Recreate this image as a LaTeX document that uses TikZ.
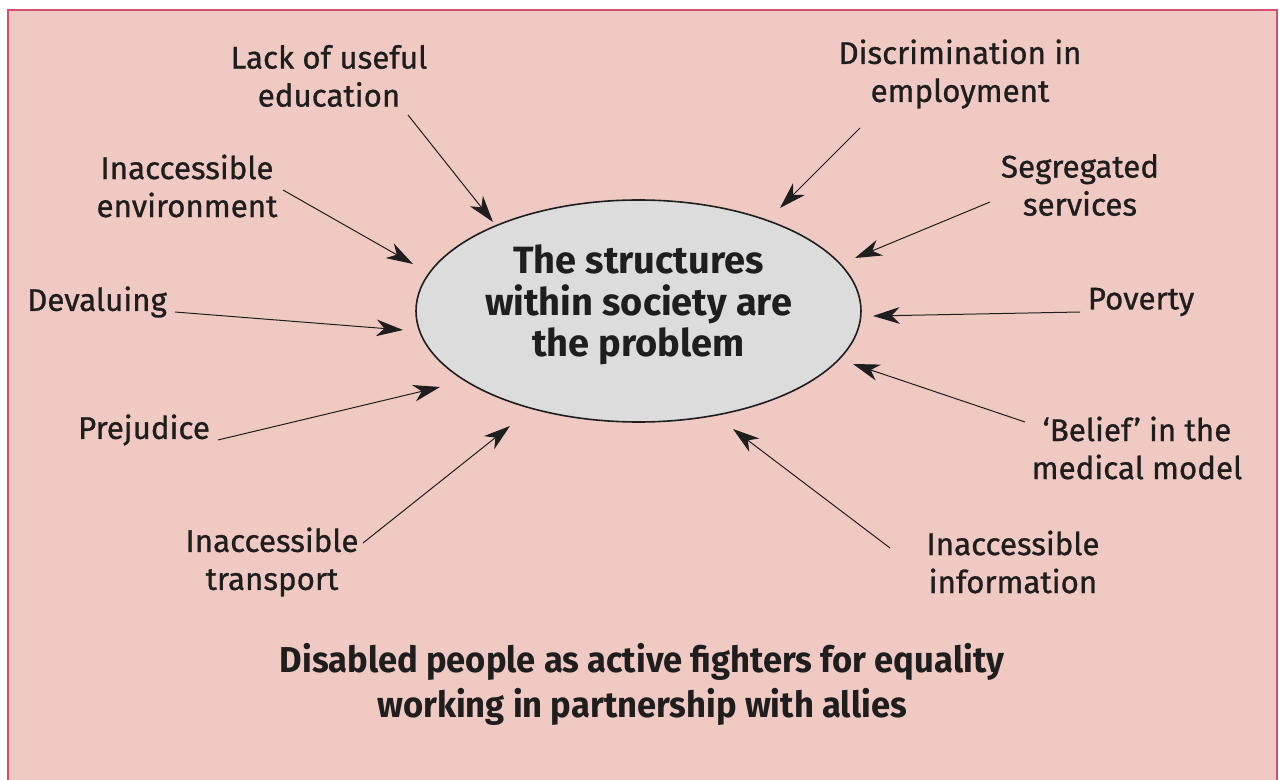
\documentclass[tikz,border=0pt]{standalone}
\usepackage{fontspec}
\setmainfont{Fira Sans}
\newfontfamily\lblfont{Fira Sans}[FakeBold=0.9]
\newfontfamily\condfont{Fira Sans}[FakeStretch=0.96]
\usetikzlibrary{shapes.geometric,arrows.meta}
\definecolor{bgpink}{HTML}{F0CAC2}
\definecolor{rim}{HTML}{D4506E}
\definecolor{ellfill}{HTML}{DCDCDC}
\definecolor{ink}{HTML}{1E1E1E}
\tikzset{
  lbl/.style={align=center, text=ink, font=\lblfont\fontsize{23.5}{28.5}\selectfont, inner sep=0pt},
  arr/.style={draw=ink, line width=0.75pt, -{Stealth[length=20pt,width=12.5pt,inset=6pt]}},
}
\begin{document}
\begin{tikzpicture}[x=0.75pt,y=-0.75pt]
\useasboundingbox (0,0) rectangle (1279,780);
\fill[bgpink] (8,10) rectangle (1277,790);
\draw[rim, line width=2.2pt] (8,790) -- (8,10) -- (1277,10) -- (1277,790);

\node[ellipse, draw=ink, line width=1.2pt, fill=ellfill, minimum width=333.75pt, minimum height=166.5pt, inner sep=0pt] (core) at (638.5,311) {};
\node[align=center, text=ink, font=\bfseries\fontsize{28.5}{31}\selectfont] (coretext) at (638.5,305) {The structures\\within society are\\the problem};

\node[lbl] (lack) at (329,76) {Lack of useful\\education};
\node[lbl] (disc) at (960,74) {Discrimination in\\employment};
\node[lbl] (envi) at (187,186) {Inaccessible\\environment};
\node[lbl] (segr) at (1080,185) {Segregated\\services};
\node[lbl] (deva) at (97,302) {Devaluing};
\node[lbl] (pove) at (1141,302) {Poverty};
\node[lbl] (prej) at (144,430) {Prejudice};
\node[lbl] (beli) at (1137,448) {‘Belief’ in the\\medical model};
\node[lbl] (tran) at (272,562) {Inaccessible\\transport};
\node[lbl] (info) at (1013,562) {Inaccessible\\information};

\node[align=center, text=ink, font=\condfont\bfseries\fontsize{27}{33.75}\selectfont] (bottom) at (642,684) {Disabled people as active fighters for equality\\working in partnership with allies};

\coordinate (s1) at (408,115); \coordinate (t1) at (493,222);
\coordinate (s2) at (860,128); \coordinate (t2) at (780,208);
\coordinate (s3) at (283,190); \coordinate (t3) at (413,264);
\coordinate (s4) at (990,202); \coordinate (t4) at (855,258);
\coordinate (s5) at (175,312); \coordinate (t5) at (403,330);
\coordinate (s6) at (1080,312); \coordinate (t6) at (873,316);
\coordinate (s7) at (218,440); \coordinate (t7) at (440,387);
\coordinate (s8) at (1025,422); \coordinate (t8) at (853,364);
\coordinate (s9) at (363,543); \coordinate (t9) at (510,426);
\coordinate (s10) at (890,548); \coordinate (t10) at (733,429);
\foreach \i in {1,...,10} { \draw[arr] (s\i) -- (t\i); }
\end{tikzpicture}
\end{document}
